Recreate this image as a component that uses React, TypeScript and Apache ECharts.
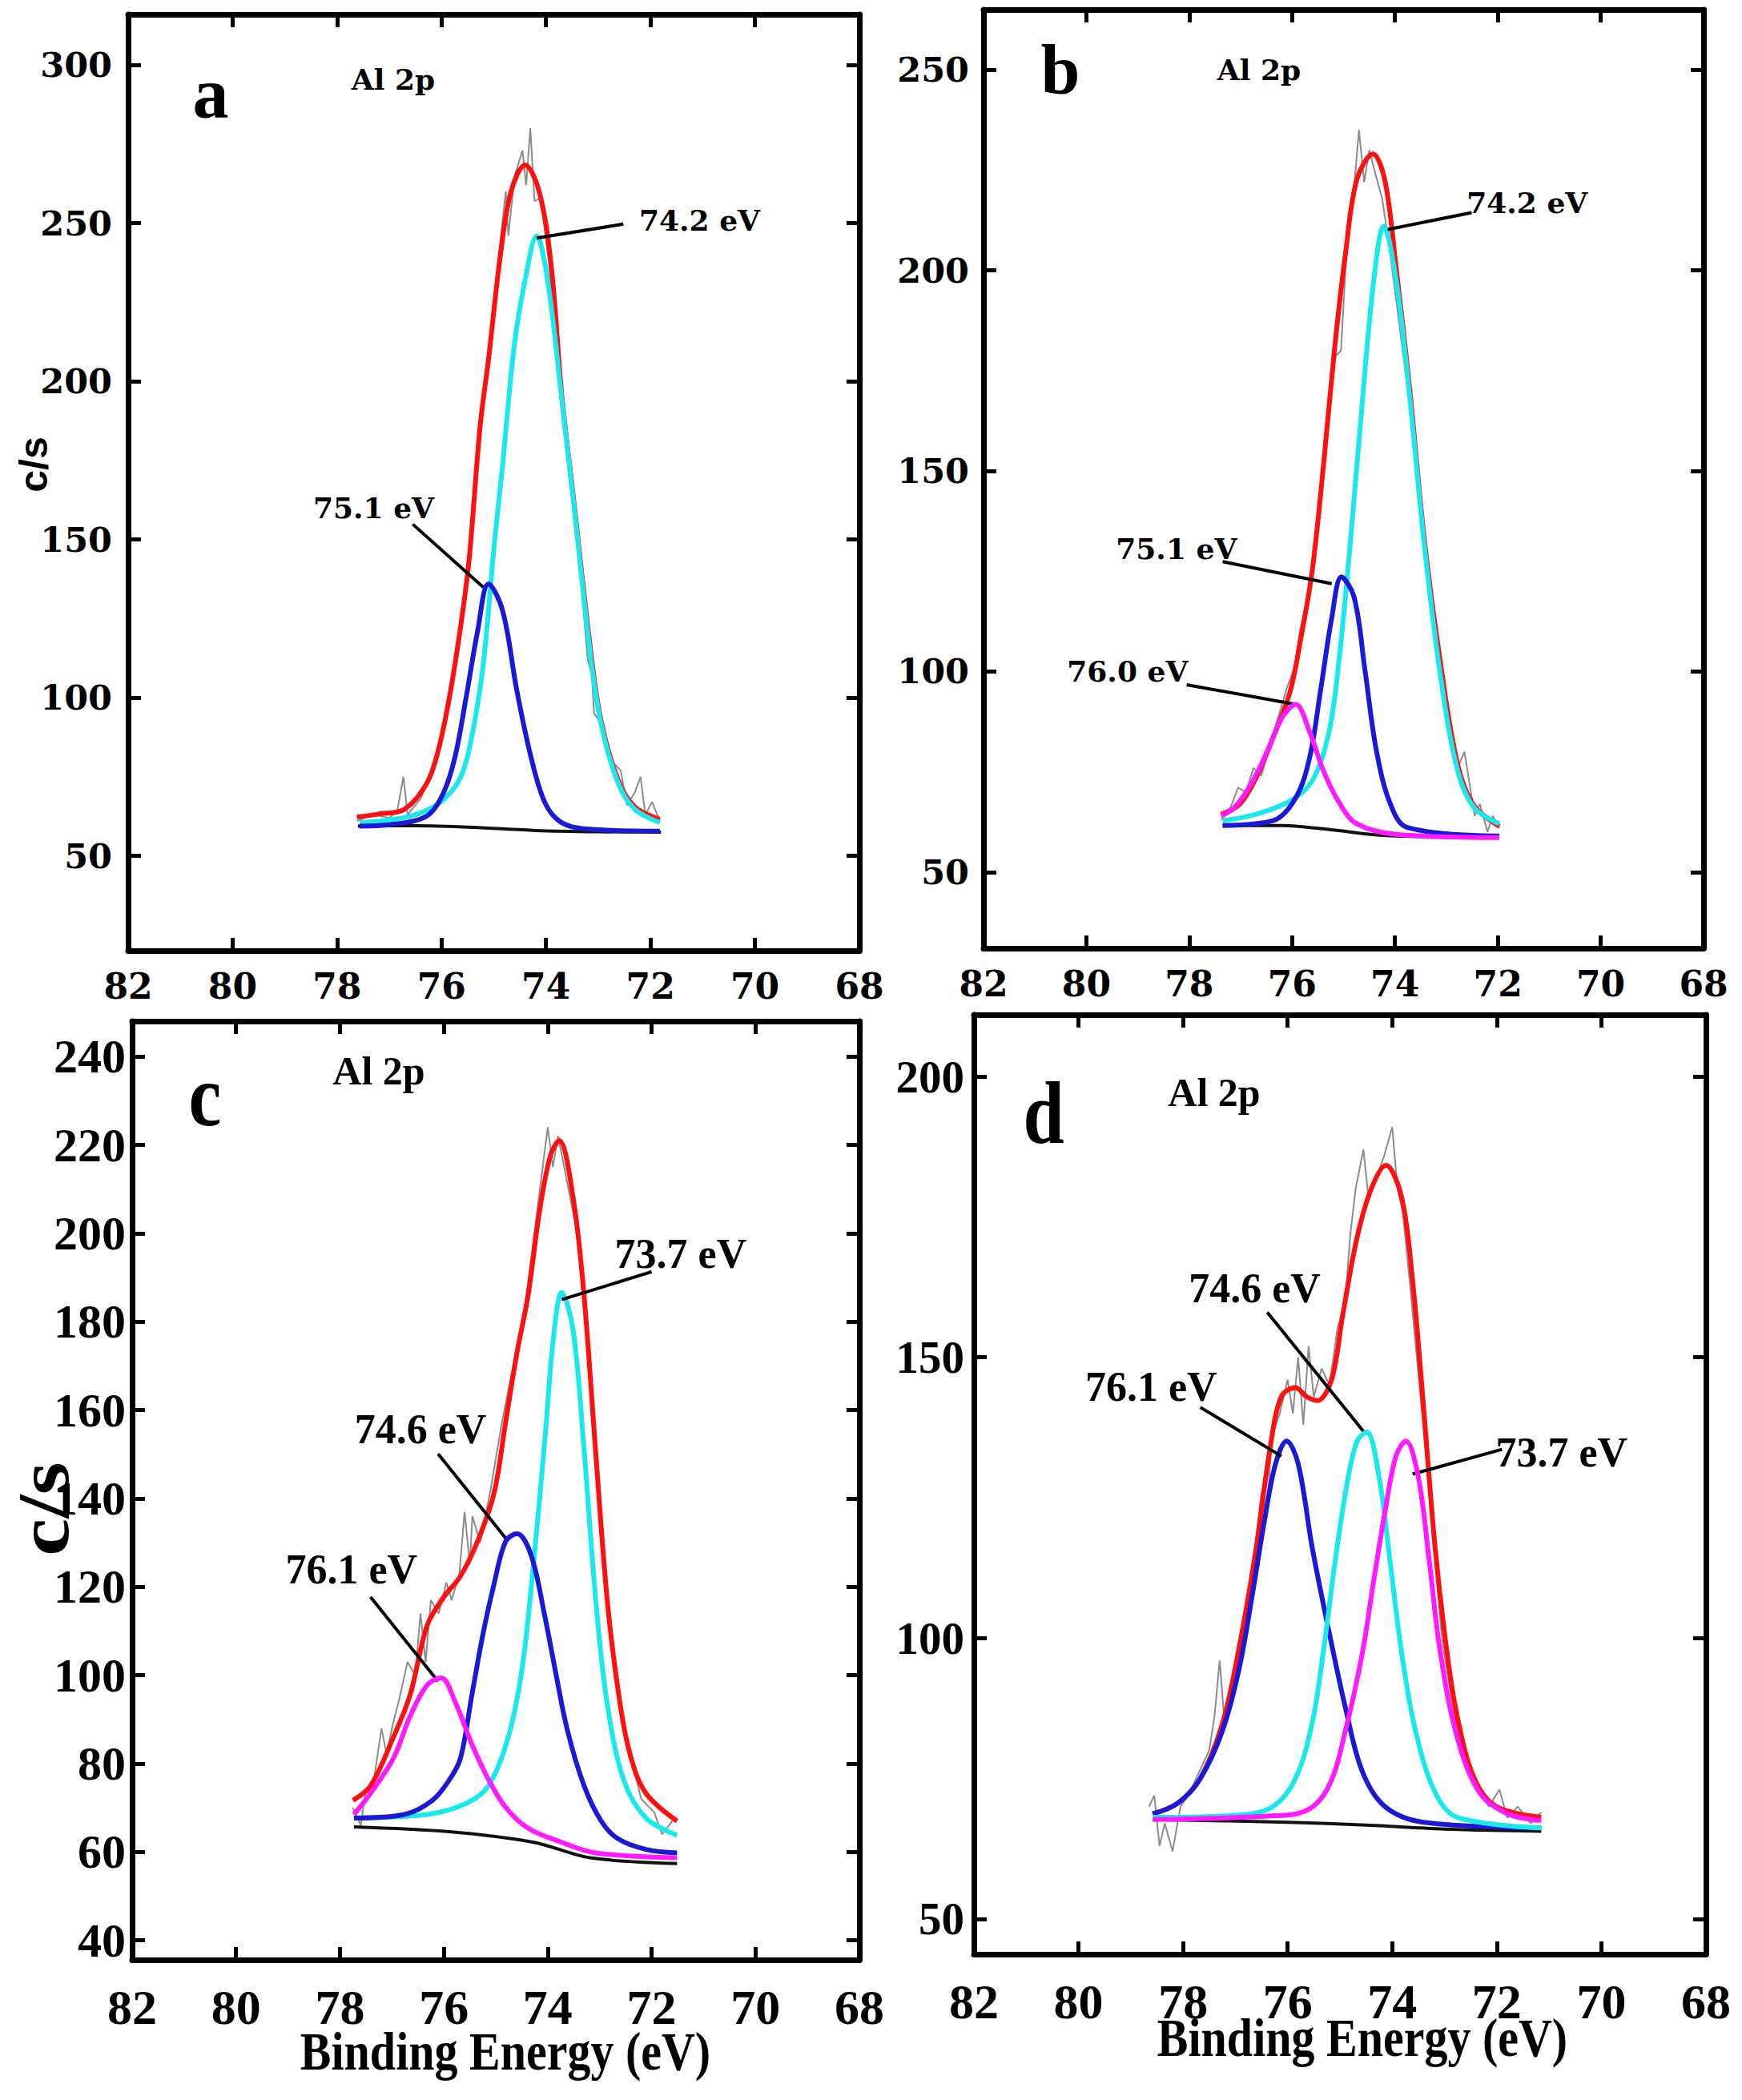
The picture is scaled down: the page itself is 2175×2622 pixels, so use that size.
import React, { useEffect, useRef } from 'react';
import * as echarts from 'echarts';

// ---- data: [binding energy (eV), counts/s] ----

// panel a
const aRed = [[77.62, 62.2], [77.2, 63.2], [76.71, 64.7], [76.28, 73], [76.06, 83.5], [75.85, 100], [75.63, 123], [75.47, 144], [75.26, 186], [75.1, 207], [74.88, 239], [74.67, 260], [74.4, 268.4], [74.13, 260], [73.9, 236.5], [73.7, 196], [73.48, 164], [73.16, 117], [72.95, 93], [72.62, 74], [72.3, 65.5], [71.82, 61.5]];
const aCyan = [[77.57, 60.5], [76.92, 61.5], [76.39, 63.6], [75.96, 67.8], [75.63, 75], [75.42, 87.7], [75.2, 110.8], [74.99, 148.5], [74.83, 173.6], [74.61, 211], [74.4, 232], [74.18, 246], [73.97, 232], [73.7, 194.6], [73.48, 163], [73.16, 115], [72.95, 92], [72.62, 73], [72.3, 64.7], [71.82, 60.5]];
const aBlue = [[77.57, 59.4], [76.92, 60], [76.28, 62.6], [75.96, 70], [75.74, 81.4], [75.53, 100], [75.31, 121], [75.1, 136], [74.83, 127.5], [74.56, 102.4], [74.29, 81.4], [74.02, 66.8], [73.7, 60.5], [73.16, 58.4], [71.82, 57.8]];
const aBase = [[77.6, 59.4], [76.5, 59.5], [75.4, 59], [74.2, 58], [73.0, 57.6], [71.8, 57.5]];
const aRaw = [[77.62, 61], [77.3, 63], [77.0, 62], [76.85, 64], [76.73, 75], [76.65, 63], [76.4, 68], [76.1, 80], [75.85, 99], [75.6, 127], [75.4, 156], [75.2, 195], [75.0, 224], [74.85, 248], [74.77, 260], [74.72, 246], [74.6, 265], [74.45, 273], [74.38, 262], [74.3, 280], [74.22, 257], [74.1, 258], [73.95, 238], [73.7, 194], [73.45, 160], [73.2, 112], [73.12, 107], [73.08, 95], [72.95, 92], [72.75, 80], [72.57, 77], [72.45, 66], [72.3, 70], [72.19, 75], [72.1, 63], [71.97, 67], [71.82, 61]];
const aTicks = [50, 100, 150, 200, 250, 300];
const aNotes = [
  { text: '74.2 eV', at: [71.06, 251], from: [72.52, 249.7], to: [74.18, 245.3] },
  { text: '75.1 eV', at: [77.3, 160], from: [76.55, 154.8], to: [75.2, 134.9] },
];

// panel b
const bRed = [[77.38, 64.4], [77.02, 66.9], [76.7, 73.5], [76.37, 83.5], [76.04, 95], [75.83, 108.3], [75.61, 125], [75.39, 151.4], [75.17, 181], [74.96, 204.4], [74.74, 222.7], [74.43, 229], [74.2, 222.7], [73.98, 201], [73.71, 170], [73.43, 133], [73.11, 101.7], [72.78, 76.8], [72.46, 66.5], [71.97, 61.4]];
const bCyan = [[77.35, 62.8], [76.7, 64.4], [76.04, 67.7], [75.61, 72.7], [75.28, 85.1], [75.07, 105], [74.85, 134.8], [74.63, 168], [74.41, 197.8], [74.22, 211], [73.98, 197.8], [73.71, 168], [73.43, 131.5], [73.11, 98.4], [72.78, 75.2], [72.46, 66], [71.97, 62]];
const bBlue = [[77.35, 61.6], [76.37, 62.8], [75.93, 68.5], [75.66, 78.5], [75.45, 95], [75.23, 113.3], [75.04, 123.6], [74.79, 118.3], [74.58, 100], [74.36, 80.2], [74.09, 67], [73.76, 61.1], [71.97, 59]];
const bMagenta = [[77.38, 64], [77.13, 66], [76.8, 71.9], [76.48, 80.2], [76.2, 88.4], [75.93, 91.8], [75.66, 85], [75.39, 75.2], [75.07, 67], [74.74, 62], [73.98, 59.4], [71.97, 58.6]];
const bBase = [[77.35, 61.6], [76.2, 61.6], [75.2, 60.5], [74.3, 59.2], [73.0, 58.8], [71.97, 58.8]];
const bRaw = [[77.38, 63], [77.2, 66], [77.05, 71], [76.9, 70], [76.75, 76], [76.6, 74], [76.4, 83], [76.1, 96], [75.95, 101], [75.85, 110], [75.6, 124], [75.4, 150], [75.2, 178], [75.05, 180], [74.95, 203], [74.8, 220], [74.7, 235], [74.6, 222], [74.5, 230], [74.38, 224], [74.25, 218], [74.1, 205], [73.95, 190], [73.75, 170], [73.55, 150], [73.3, 118], [73.1, 98], [72.9, 82], [72.78, 76], [72.65, 80], [72.55, 72], [72.45, 64], [72.35, 67], [72.2, 60], [72.1, 64], [71.97, 61]];
const bTicks = [50, 100, 150, 200, 250];
const bNotes = [
  { text: '74.2 eV', at: [71.43, 216.9], from: [72.51, 214.4], to: [74.14, 210.2] },
  { text: '75.1 eV', at: [78.25, 130.7], from: [77.35, 127.4], to: [75.23, 121.9] },
  { text: '76.0 eV', at: [79.2, 100], from: [78.05, 96.7], to: [75.93, 91.8] },
];

// panel c
const cRed = [[77.75, 71.7], [77.41, 75], [76.97, 86], [76.65, 95.5], [76.32, 111.3], [76.0, 117.7], [75.68, 122.4], [75.35, 130.3], [75.03, 141.4], [74.81, 157.3], [74.59, 173.1], [74.38, 185.8], [74.16, 204.8], [73.95, 217.5], [73.78, 221], [73.51, 208], [73.3, 185.8], [73.08, 151], [72.86, 117.7], [72.65, 97], [72.43, 82.8], [72.11, 73.3], [71.51, 67]];
const cCyan = [[77.73, 67.7], [76.32, 68.5], [75.57, 71], [75.14, 75], [74.76, 86], [74.49, 101.8], [74.27, 125.6], [74.05, 154], [73.89, 176.3], [73.73, 186.6], [73.51, 178], [73.3, 151], [73.08, 117.7], [72.86, 94], [72.54, 76.4], [72.11, 67.7], [71.51, 63.8]];
const cBlue = [[77.73, 67.7], [76.76, 68.5], [76.22, 71.7], [75.89, 76.4], [75.68, 81.2], [75.46, 95.5], [75.24, 109.7], [75.03, 120.8], [74.81, 130.3], [74.59, 132], [74.32, 127.2], [74.05, 113], [73.84, 100.2], [73.62, 87.5], [73.3, 75], [72.97, 67], [72.65, 63], [72.11, 60.6], [71.51, 59.8]];
const cMagenta = [[77.73, 68.5], [77.41, 73.3], [76.97, 81.2], [76.65, 90.7], [76.32, 97.8], [76.05, 99.4], [75.78, 93.9], [75.46, 84.4], [75.14, 76.4], [74.81, 70.1], [74.38, 65.4], [73.73, 62.2], [73.08, 59.8], [71.51, 58.7]];
const cBase = [[77.73, 65.7], [75.89, 64.6], [74.27, 62.2], [73.19, 58.7], [71.51, 57.4]];
const cRaw = [[77.75, 70], [77.6, 66], [77.5, 74], [77.35, 76], [77.2, 88], [77.1, 82], [77.0, 88], [76.85, 95], [76.7, 103], [76.55, 100], [76.45, 114], [76.35, 103], [76.25, 117], [76.1, 114], [75.95, 121], [75.85, 117], [75.7, 123], [75.6, 137], [75.5, 125], [75.45, 136], [75.3, 130], [75.1, 142], [74.9, 156], [74.7, 168], [74.5, 178], [74.3, 196], [74.15, 210], [74.0, 224], [73.9, 215], [73.8, 222], [73.6, 210], [73.4, 198], [73.2, 170], [73.0, 142], [72.85, 118], [72.75, 108], [72.65, 97], [72.45, 84], [72.2, 72], [71.95, 69], [71.8, 64], [71.6, 67]];
const cTicks = [40, 60, 80, 100, 120, 140, 160, 180, 200, 220, 240];
const cNotes = [
  { text: '73.7 eV', at: [71.44, 195.3], from: [72.0, 191.3], to: [73.73, 185] },
  { text: '74.6 eV', at: [76.45, 155.7], from: [76.11, 150.1], to: [74.76, 130.3] },
  { text: '76.1 eV', at: [77.78, 124], from: [77.41, 117.7], to: [76.11, 98.6] },
];

// panel d
const dRed = [[78.58, 68.7], [78.1, 70.6], [77.67, 75], [77.24, 85], [76.92, 98.7], [76.6, 116.1], [76.34, 133.6], [76.12, 143], [75.85, 144.6], [75.64, 143], [75.43, 142.3], [75.16, 146], [74.95, 157.3], [74.68, 171], [74.41, 179.8], [74.12, 184.2], [73.82, 178.5], [73.61, 163.6], [73.4, 141], [73.18, 116.1], [72.97, 98.7], [72.76, 86.2], [72.43, 75], [72.01, 70], [71.15, 68.1]];
const dBlue = [[78.58, 68.7], [78.1, 70.6], [77.67, 75], [77.24, 83.7], [76.92, 94.9], [76.66, 108.6], [76.44, 121.1], [76.23, 131.1], [76.02, 135.1], [75.8, 131.1], [75.53, 116.1], [75.21, 101.2], [74.89, 87.4], [74.57, 76.2], [74.14, 70], [73.4, 67.2], [71.15, 66.2]];
const dCyan = [[78.58, 68.1], [76.92, 68.5], [76.28, 70], [75.85, 75], [75.53, 84.9], [75.32, 97.4], [75.11, 112.4], [74.89, 126.1], [74.68, 134.9], [74.49, 136.7], [74.25, 128.6], [74.04, 113.6], [73.82, 97.4], [73.56, 83.7], [73.18, 72.5], [72.76, 68.1], [71.15, 66.2]];
const dMagenta = [[78.58, 67.7], [76.39, 68.3], [75.64, 69.3], [75.21, 73.7], [74.89, 83.7], [74.57, 97.4], [74.36, 109.9], [74.14, 122.4], [73.93, 132.4], [73.74, 135.1], [73.5, 128.6], [73.29, 113.6], [73.08, 97.4], [72.76, 82.4], [72.33, 72.5], [71.79, 68.7], [71.15, 67.5]];
const dBase = [[78.58, 67.7], [76.0, 67.2], [74.5, 66.7], [73.0, 66], [71.15, 65.6]];
const dRaw = [[78.65, 70], [78.55, 72], [78.45, 63], [78.35, 67], [78.2, 62], [78.05, 70], [77.9, 72], [77.7, 76], [77.5, 80], [77.4, 86], [77.3, 96], [77.2, 84], [77.05, 92], [76.9, 99], [76.7, 110], [76.5, 126], [76.4, 122], [76.3, 136], [76.15, 140], [76.0, 146], [75.9, 140], [75.8, 150], [75.7, 138], [75.6, 152], [75.5, 143], [75.35, 148], [75.2, 145], [75.05, 155], [74.9, 160], [74.8, 172], [74.7, 180], [74.55, 187], [74.45, 178], [74.3, 182], [74.15, 186], [74.0, 191], [73.9, 180], [73.8, 176], [73.65, 162], [73.45, 142], [73.25, 122], [73.05, 100], [72.85, 88], [72.65, 80], [72.45, 76], [72.3, 72], [72.15, 70], [71.95, 73], [71.8, 68], [71.6, 70], [71.35, 67], [71.15, 69]];
const dTicks = [50, 100, 150, 200];
const dNotes = [
  { text: '74.6 eV', at: [76.63, 162.3], from: [76.39, 158], to: [74.54, 136.7] },
  { text: '76.1 eV', at: [78.61, 144.8], from: [77.67, 141.1], to: [76.12, 132.4] },
  { text: '73.7 eV', at: [70.76, 133], from: [71.9, 133.6], to: [73.61, 129.2] },
];

const xTicks = [82, 80, 78, 76, 74, 72, 70, 68];

const RED = '#ff1010';
const CYAN = '#19e8ec';
const BLUE = '#1a1ad6';
const MAGENTA = '#ff1aff';
const SERIF = '"Liberation Serif", "Times New Roman", serif';
const WIDE = '"DejaVu Serif", serif';

const panels = [
  {
    grid: { left: 160, top: 18, width: 913, height: 1169 },
    yMin: 20, yMax: 316, yTicks: aTicks,
    tickFont: WIDE, yLabelSize: 43, xLabelSize: 44, yMargin: 20, xMargin: 22,
    noteFont: WIDE, noteSize: 36,
    curves: [[aRed, RED], [aCyan, CYAN], [aBlue, BLUE]],
    base: aBase, raw: aRaw, notes: aNotes,
  },
  {
    grid: { left: 1228, top: 12, width: 899, height: 1172 },
    yMin: 31, yMax: 265, yTicks: bTicks,
    tickFont: WIDE, yLabelSize: 43, xLabelSize: 44, yMargin: 18, xMargin: 22,
    noteFont: WIDE, noteSize: 36,
    curves: [[bRed, RED], [bCyan, CYAN], [bBlue, BLUE], [bMagenta, MAGENTA]],
    base: bBase, raw: bRaw, notes: bNotes,
  },
  {
    grid: { left: 165, top: 1275, width: 908, height: 1172 },
    yMin: 35.6, yMax: 248, yTicks: cTicks,
    tickFont: SERIF, yLabelSize: 60, xLabelSize: 62, yMargin: 8, xMargin: 28,
    noteFont: SERIF, noteSize: 52,
    curves: [[cRed, RED], [cCyan, CYAN], [cBlue, BLUE], [cMagenta, MAGENTA]],
    base: cBase, raw: cRaw, notes: cNotes,
  },
  {
    grid: { left: 1216, top: 1267, width: 914, height: 1173 },
    yMin: 43.7, yMax: 211, yTicks: dTicks,
    tickFont: SERIF, yLabelSize: 57, xLabelSize: 62, yMargin: 12, xMargin: 28,
    noteFont: SERIF, noteSize: 52,
    curves: [[dRed, RED], [dBlue, BLUE], [dCyan, CYAN], [dMagenta, MAGENTA]],
    base: dBase, raw: dRaw, notes: dNotes,
  },
];

const frameLine = { show: true, onZero: false, lineStyle: { color: '#000', width: 7 } };
const frameTick = { show: true, inside: true, length: 16, lineStyle: { color: '#000', width: 5 } };

function buildOption() {
  const xAxis: any[] = [];
  const yAxis: any[] = [];
  const series: any[] = [];

  panels.forEach((p, i) => {
    ['bottom', 'top'].forEach((pos) => {
      xAxis.push({
        gridIndex: i,
        type: 'value',
        position: pos,
        min: 68,
        max: 82,
        interval: 2,
        inverse: true,
        axisLine: frameLine,
        axisTick: frameTick,
        splitLine: { show: false },
        axisLabel: {
          show: pos === 'bottom',
          margin: p.xMargin,
          color: '#000',
          fontFamily: p.tickFont,
          fontWeight: 'bold',
          fontSize: p.xLabelSize,
          customValues: xTicks,
        },
      });
    });
    ['left', 'right'].forEach((pos) => {
      yAxis.push({
        gridIndex: i,
        type: 'value',
        position: pos,
        min: p.yMin,
        max: p.yMax,
        axisLine: frameLine,
        axisTick: { ...frameTick, customValues: p.yTicks },
        splitLine: { show: false },
        axisLabel: {
          show: pos === 'left',
          margin: p.yMargin,
          color: '#000',
          fontFamily: p.tickFont,
          fontWeight: 'bold',
          fontSize: p.yLabelSize,
          customValues: p.yTicks,
        },
      });
    });

    const axes = { xAxisIndex: i * 2, yAxisIndex: i * 2 };

    // raw noisy spectrum under the fitted curves
    series.push({
      type: 'line', ...axes, data: p.raw, symbol: 'none', silent: true, z: 1,
      lineStyle: { color: '#8c8c8c', width: 2 },
    });
    p.curves.forEach(([data, color], k) => {
      series.push({
        type: 'line', ...axes, data, symbol: 'none', smooth: 0.35, silent: true, z: 3 + k,
        lineStyle: { color, width: 6 },
      });
    });
    // baseline, with the peak annotations hung on it
    series.push({
      type: 'line', ...axes, data: p.base, symbol: 'none', smooth: 0.3, silent: true, z: 2,
      lineStyle: { color: '#111', width: 4 },
      markLine: {
        silent: true,
        symbol: ['none', 'arrow'],
        symbolSize: [0, 20],
        label: { show: false },
        lineStyle: { color: '#000', width: 4, type: 'solid' },
        data: p.notes.map((n) => [{ coord: n.from }, { coord: n.to }]),
      },
      markPoint: {
        silent: true,
        symbol: 'circle',
        symbolSize: 1,
        itemStyle: { color: 'rgba(0,0,0,0)' },
        label: {
          show: true,
          position: 'inside',
          formatter: '{b}',
          color: '#000',
          fontFamily: p.noteFont,
          fontWeight: 'bold',
          fontSize: p.noteSize,
        },
        data: p.notes.map((n) => ({ name: n.text, coord: n.at })),
      },
    });
  });

  const text = (t: string, x: number, y: number, font: string, extra: any = {}) => ({
    type: 'text',
    x,
    y,
    ...extra,
    style: { text: t, font, fill: '#000', textAlign: 'center', textVerticalAlign: 'middle' },
  });

  const graphic = [
    text('a', 263, 116, `bold 90px ${SERIF}`),
    text('b', 1324, 87, `bold 88px ${SERIF}`),
    text('c', 256, 1368, `bold 92px ${SERIF}`, { scaleY: 1.2 }),
    text('d', 1303, 1390, `bold 92px ${SERIF}`, { scaleY: 1.2 }),
    text('Al 2p', 491, 99, `bold 36px ${WIDE}`),
    text('Al 2p', 1572, 87, `bold 36px ${WIDE}`),
    text('Al 2p', 473, 1337, `bold 50px ${SERIF}`),
    text('Al 2p', 1516, 1364, `bold 50px ${SERIF}`),
    text('c/s', 42, 580, 'bold 50px "Liberation Sans", sans-serif', { rotation: Math.PI / 2 }),
    text('c/s', 54, 1884, `bold 92px ${SERIF}`, { rotation: Math.PI / 2, scaleX: 1.15 }),
    text('Binding Energy (eV)', 631, 2562, `bold 58px ${SERIF}`, { scaleY: 1.15 }),
    text('Binding Energy (eV)', 1701, 2545, `bold 58px ${SERIF}`, { scaleY: 1.15 }),
  ];

  return {
    animation: false,
    backgroundColor: '#fff',
    grid: panels.map((p) => ({ ...p.grid, show: false })),
    xAxis,
    yAxis,
    series,
    graphic,
  };
}

const App: React.FC = () => {
  const chartRef = useRef<HTMLDivElement>(null);

  useEffect(() => {
    if (!chartRef.current) return;
    const chart = echarts.init(chartRef.current, undefined, { renderer: 'svg' });
    chart.setOption(buildOption() as any);
    return () => {
      chart.dispose();
    };
  }, []);

  return (
    <div
      ref={chartRef}
      style={{ position: 'absolute', left: 0, top: 0, width: '2175px', height: '2622px', background: '#fff' }}
    />
  );
};

export default App;
